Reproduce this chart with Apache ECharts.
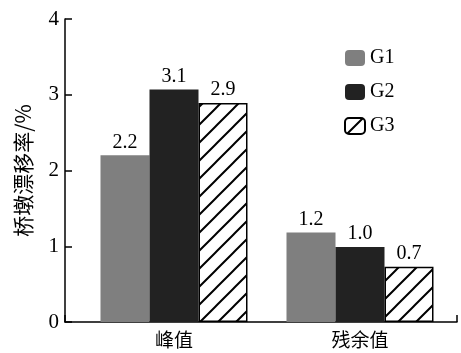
<!DOCTYPE html>
<html><head><meta charset="utf-8">
<script src="https://cdn.jsdelivr.net/npm/echarts@6/dist/echarts.min.js"></script>
<style>html,body{margin:0;padding:0;background:#fff}#c{width:461px;height:353px}</style>
</head><body><div id="c"></div>
<script>
const categories = ['峰值', '残余值'];
const seriesNames = ['G1', 'G2', 'G3'];
const g1 = [2.20, 1.18];
const g2 = [3.07, 0.99];
const g3 = [2.89, 0.73];
const yTicks = [0, 1, 2, 3, 4];

function hatch() {
  const s = 18, c = document.createElement('canvas');
  c.width = s; c.height = s;
  const x = c.getContext('2d');
  x.fillStyle = '#fff'; x.fillRect(0, 0, s, s);
  x.strokeStyle = '#000'; x.lineWidth = 2;
  x.beginPath();
  x.moveTo(-2, s + 2); x.lineTo(s + 2, -2);
  x.moveTo(-2, 2); x.lineTo(2, -2);
  x.moveTo(s - 2, s + 2); x.lineTo(s + 2, s - 2);
  x.stroke();
  return c;
}
const serif = 'Liberation Serif';
const cjk = 'Noto Sans CJK SC';
const chart = echarts.init(document.getElementById('c'), null, {renderer: 'canvas'});
const lbl = {show: true, position: 'top', distance: 3, fontFamily: serif, fontSize: 20, color: '#000',
  formatter: p => p.value.toFixed(1)};
const colors = ['#7f7f7f', '#222222', {image: hatch(), repeat: 'repeat'}];
const datas = [g1, g2, g3];
chart.setOption({
  animation: false,
  grid: [
    {left: 81, right: 8, top: 19, bottom: 31},
    {left: 65, right: 4, top: 19, bottom: 31}
  ],
  legend: {
    orient: 'vertical', left: 339, top: 43, itemWidth: 20, itemHeight: 16, itemGap: 14,
    textStyle: {fontFamily: serif, fontSize: 20, color: '#000'},
    data: seriesNames
  },
  xAxis: [
    {type: 'category', gridIndex: 0, data: categories,
     axisLine: {show: false}, axisTick: {show: false},
     axisLabel: {fontFamily: cjk, fontSize: 19, color: '#000', margin: 8}},
    {type: 'value', gridIndex: 1, min: 0, max: 1, interval: 1,
     axisLine: {show: true, lineStyle: {color: '#000', width: 1.5}},
     axisTick: {show: true, inside: true, length: 7, lineStyle: {color: '#000', width: 1.5}},
     axisLabel: {show: false}, splitLine: {show: false}}
  ],
  yAxis: [
    {type: 'value', gridIndex: 0, min: 0, max: 4, interval: 1, show: false, splitLine: {show: false}},
    {type: 'value', gridIndex: 1, min: yTicks[0], max: yTicks[yTicks.length - 1], interval: 1,
     name: '桥墩漂移率/%', nameLocation: 'middle', nameGap: 31,
     nameTextStyle: {fontFamily: cjk, fontSize: 21, color: '#000'},
     axisLine: {show: true, lineStyle: {color: '#000', width: 1.5}},
     axisTick: {show: true, inside: true, length: 7, lineStyle: {color: '#000', width: 1.5}},
     axisLabel: {fontFamily: serif, fontSize: 21, color: '#000', margin: 6},
     splitLine: {show: false}}
  ],
  series: seriesNames.map((n, i) => ({
    name: n, type: 'bar', xAxisIndex: 0, yAxisIndex: 0,
    data: datas[i], barWidth: 49, barGap: '0%',
    itemStyle: {color: colors[i], borderColor: i === 2 ? '#000' : undefined, borderWidth: i === 2 ? 1.5 : 0},
    label: lbl
  }))
});
</script></body></html>
